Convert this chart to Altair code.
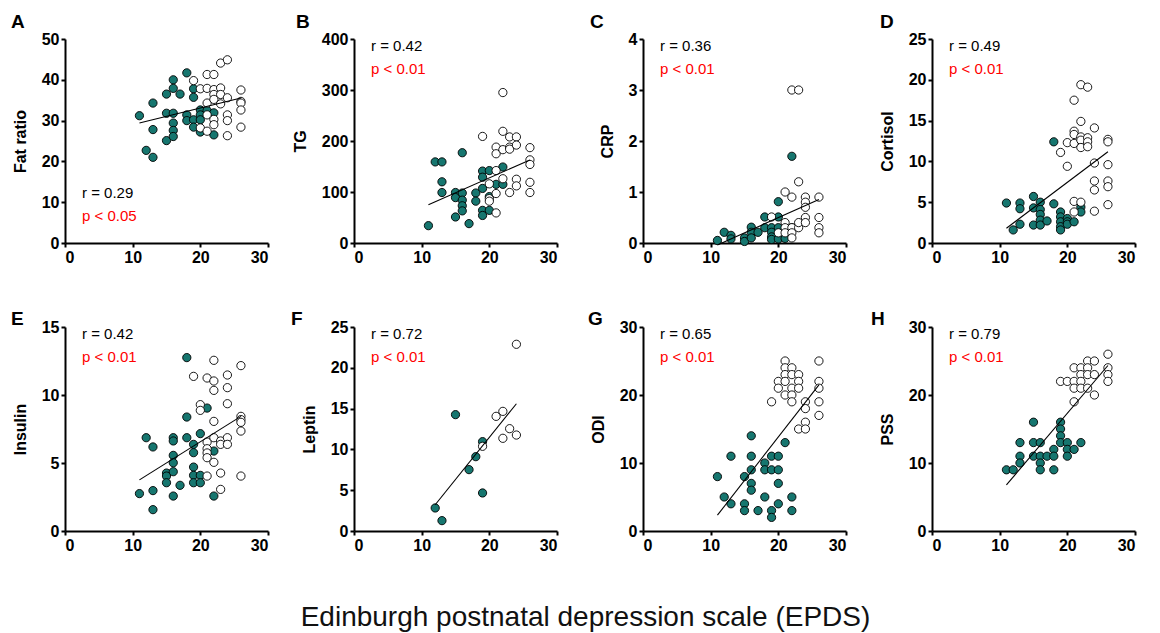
import altair as alt
import pandas as pd

TEAL = "#16766f"
FONT = "Liberation Sans"

# ---------------- data (EPDS score on x) ----------------
# A  Fat ratio
a_low_x = [11, 12, 13, 13, 13, 15, 15, 15, 16, 16, 16, 16, 16, 16, 17, 18, 18, 18, 19, 19, 19, 19, 20, 20, 20, 20, 21, 22, 22]
a_low_y = [31.2, 22.7, 21.0, 34.3, 27.8, 36.5, 31.8, 25.1, 40.0, 37.9, 31.8, 29.4, 27.6, 26.1, 36.5, 41.7, 31.4, 30.0, 37.8, 35.7, 30.2, 28.4, 32.6, 31.4, 30.2, 27.2, 32.5, 31.9, 26.5]
a_high_x = [19, 20, 20, 21, 21, 21, 21, 21, 22, 22, 22, 22, 22, 22, 23, 23, 23, 23, 24, 24, 24, 24, 24, 26, 26, 26, 26, 26]
a_high_y = [39.8, 37.8, 28.2, 41.3, 37.9, 34.3, 31.4, 27.4, 41.3, 37.6, 36.4, 35.2, 30.3, 29.0, 44.1, 38.0, 36.4, 34.1, 44.9, 35.6, 31.4, 30.0, 26.3, 37.5, 34.7, 34.3, 32.6, 28.4]

# B  TG
b_low_x = [11, 12, 13, 13, 13, 15, 15, 15, 16, 16, 16, 16, 16, 17, 18, 18, 19, 19, 19, 19, 19, 20, 20, 20, 21, 22, 22]
b_low_y = [34, 159, 159, 120, 99, 99, 89, 51, 177, 98, 84, 73, 63, 38, 98, 82, 141, 129, 107, 64, 54, 142, 91, 64, 115, 149, 115]
b_high_x = [19, 20, 20, 20, 21, 21, 21, 21, 21, 22, 22, 22, 22, 23, 23, 23, 23, 24, 24, 24, 24, 26, 26, 26, 26, 26]
b_high_y = [209, 116, 87, 82, 188, 175, 142, 97, 59, 295, 219, 183, 126, 208, 188, 184, 99, 208, 192, 125, 112, 187, 163, 154, 119, 99]

# C  CRP
c_low_x = [11, 12, 13, 13, 15, 15, 16, 16, 16, 17, 18, 18, 19, 19, 19, 19, 20, 20, 20, 20, 21, 22, 22]
c_low_y = [0.05, 0.21, 0.15, 0.08, 0.10, 0.03, 0.31, 0.21, 0.10, 0.21, 0.51, 0.30, 0.30, 0.21, 0.12, 0.07, 0.81, 0.51, 0.30, 0.08, 0.09, 1.70, 0.30]
c_high_x = [19, 20, 21, 21, 21, 21, 22, 23, 23, 22, 22, 22, 22, 23, 23, 24, 24, 24, 24, 24, 26, 26, 26, 26]
c_high_y = [0.51, 0.2, 1.0, 0.4, 0.3, 0.2, 3.0, 3.0, 1.2, 0.9, 0.3, 0.2, 0.1, 0.3, 0.4, 0.9, 0.8, 0.7, 0.5, 0.4, 0.9, 0.5, 0.3, 0.2]

# D  Cortisol
d_low_x = [11, 12, 13, 13, 13, 15, 15, 15, 16, 16, 16, 16, 16, 17, 18, 18, 19, 19, 19, 19, 19, 20, 20, 20, 21, 22, 22]
d_low_y = [4.9, 1.6, 4.9, 4.2, 2.3, 5.7, 4.3, 2.2, 5.0, 4.1, 3.5, 2.8, 2.2, 2.7, 12.4, 4.8, 3.8, 3.2, 2.6, 2.0, 1.6, 3.0, 2.6, 2.3, 2.6, 4.4, 3.8]
d_high_x = [19, 20, 20, 21, 21, 21, 21, 21, 21, 22, 22, 22, 22, 22, 22, 23, 23, 23, 23, 24, 24, 24, 24, 24, 26, 26, 26, 26, 26, 26]
d_high_y = [11.1, 12.3, 9.4, 17.5, 13.7, 13.3, 12.2, 5.1, 3.8, 19.4, 14.9, 13.0, 12.6, 11.7, 5.0, 19.1, 12.9, 12.4, 11.8, 14.1, 9.8, 7.6, 6.5, 3.9, 12.7, 12.4, 9.6, 7.6, 6.9, 4.7]

# E  Insulin
e_low_x = [11, 12, 13, 13, 13, 15, 15, 15, 16, 16, 16, 16, 16, 16, 17, 18, 18, 18, 19, 19, 19, 19, 19, 20, 20, 20, 21, 22, 22]
e_low_y = [2.75, 6.86, 6.18, 2.97, 1.57, 4.26, 4.04, 3.55, 6.86, 6.62, 5.56, 5.02, 4.36, 2.57, 3.36, 8.38, 6.86, 12.75, 6.37, 5.76, 4.7, 4.09, 3.55, 7.16, 4.09, 3.55, 9.04, 5.88, 2.57]
e_high_x = [19, 20, 20, 21, 21, 21, 21, 21, 21, 22, 22, 22, 22, 22, 22, 23, 23, 23, 23, 24, 24, 24, 24, 24, 26, 26, 26, 26, 26, 26]
e_high_y = [11.37, 9.29, 8.87, 11.25, 6.54, 6.05, 5.74, 5.39, 4.04, 12.55, 11.03, 10.34, 8.06, 6.86, 5.05, 6.62, 6.37, 4.26, 3.06, 11.47, 10.54, 9.36, 6.86, 6.37, 12.16, 8.43, 8.19, 7.99, 7.35, 4.04]

# F  Leptin
f_low_x = [12, 13, 15, 17, 18, 19, 19]
f_low_y = [2.82, 1.27, 14.26, 7.52, 9.11, 10.95, 4.66]
f_high_x = [19, 21, 22, 22, 23, 24, 24]
f_high_y = [10.38, 14.05, 14.66, 11.36, 12.54, 22.88, 11.76]

# G  ODI
g_low_x = [11, 12, 13, 13, 15, 15, 15, 16, 16, 16, 16, 16, 17, 18, 18, 18, 19, 19, 19, 19, 20, 20, 20, 20, 21, 22, 22]
g_low_y = [8, 5, 11, 4, 8, 4, 3, 14, 11, 9, 7, 6, 3, 10, 9, 5, 11, 9, 3, 2, 11, 9, 7, 4, 13, 5, 3]
g_high_x = [19, 20, 20, 21, 21, 21, 21, 21, 22, 22, 22, 22, 22, 23, 23, 23, 23, 24, 24, 24, 24, 26, 26, 26, 26, 26]
g_high_y = [19, 22, 21, 25, 24, 23, 22, 20, 24, 23, 21, 20, 19, 23, 22, 21, 15, 19, 18, 16, 15, 25, 22, 21, 19, 17]

# H  PSS
h_low_x = [11, 12, 13, 13, 13, 15, 15, 15, 16, 16, 16, 16, 17, 18, 18, 18, 19, 19, 19, 19, 20, 20, 20, 21, 22]
h_low_y = [9, 9, 13, 11, 10, 16, 13, 11, 13, 11, 10, 9, 11, 12, 11, 9, 16, 15, 14, 13, 13, 12, 11, 12, 13]
h_high_x = [19, 20, 21, 21, 21, 21, 22, 22, 22, 22, 23, 23, 23, 23, 24, 24, 24, 26, 26, 26, 26]
h_high_y = [22, 22, 22, 21, 19, 24, 24, 23, 22, 21, 25, 24, 23, 21, 25, 23, 20, 26, 24, 23, 22]

letters = ["A", "B", "C", "D", "E", "F", "G", "H"]
y_titles = ["Fat ratio", "TG", "CRP", "Cortisol", "Insulin", "Leptin", "ODI", "PSS"]
y_max = [50, 400, 4, 25, 15, 25, 30, 30]
y_step = [10, 100, 1, 5, 5, 5, 10, 10]
r_texts = ["r = 0.29", "r = 0.42", "r = 0.36", "r = 0.49", "r = 0.42", "r = 0.72", "r = 0.65", "r = 0.79"]
p_texts = ["p < 0.05", "p < 0.01", "p < 0.01", "p < 0.01", "p < 0.01", "p < 0.01", "p < 0.01", "p < 0.01"]
x_ticks = [0, 10, 20, 30]

series = [
    (a_low_x, a_low_y, a_high_x, a_high_y),
    (b_low_x, b_low_y, b_high_x, b_high_y),
    (c_low_x, c_low_y, c_high_x, c_high_y),
    (d_low_x, d_low_y, d_high_x, d_high_y),
    (e_low_x, e_low_y, e_high_x, e_high_y),
    (f_low_x, f_low_y, f_high_x, f_high_y),
    (g_low_x, g_low_y, g_high_x, g_high_y),
    (h_low_x, h_low_y, h_high_x, h_high_y),
]

# ---------------- layout ----------------
W, H = 203, 204
letter_dx = [-54, -58, -53, -52, -54, -63, -55, -61]
letter_dy = [-11, -11, -11, -11, -2, -2, -2, -2]
text_top = [154, 7, 7, 7, 7, 7, 7, 7]


def make_panel(i):
    lx, ly, hx, hy = series[i]
    df = pd.DataFrame({
        "x": lx + hx,
        "y": ly + hy,
        "grp": ["low"] * len(lx) + ["high"] * len(hx),
    })
    ticks = [k * y_step[i] for k in range(int(round(y_max[i] / y_step[i])) + 1)]
    xs = alt.Scale(domain=[0, 30], nice=False)
    ys = alt.Scale(domain=[0, y_max[i]], nice=False)
    xenc = alt.X("x:Q", scale=xs, axis=alt.Axis(values=x_ticks, title=None, format="d"))
    yenc = alt.Y("y:Q", scale=ys, axis=alt.Axis(values=ticks, title=y_titles[i], format="d"))

    base = alt.Chart(df)
    pts = base.mark_circle(size=68, stroke="black", strokeWidth=0.9, opacity=1).encode(
        x=xenc, y=yenc,
        fill=alt.Fill("grp:N", scale=alt.Scale(domain=["low", "high"], range=[TEAL, "white"]), legend=None),
    )
    line = base.transform_regression("x", "y").mark_line(color="black", strokeWidth=1.1).encode(
        x=alt.X("x:Q", scale=xs), y=alt.Y("y:Q", scale=ys)
    )
    rt = alt.Chart(pd.DataFrame({"t": [r_texts[i]]})).mark_text(
        align="left", baseline="middle", font=FONT, fontSize=15, color="black"
    ).encode(x=alt.value(17), y=alt.value(text_top[i]), text="t:N")
    pt = alt.Chart(pd.DataFrame({"t": [p_texts[i]]})).mark_text(
        align="left", baseline="middle", font=FONT, fontSize=15, color="#ff0000"
    ).encode(x=alt.value(17), y=alt.value(text_top[i] + 23), text="t:N")
    lt = alt.Chart(pd.DataFrame({"t": [letters[i]]})).mark_text(
        align="left", baseline="alphabetic", font=FONT, fontSize=19, fontWeight="bold", color="black"
    ).encode(x=alt.value(letter_dx[i]), y=alt.value(letter_dy[i]), text="t:N")
    return alt.layer(pts, line, rt, pt, lt).properties(width=W, height=H)


panels = [make_panel(i) for i in range(8)]

chart = alt.concat(
    *panels, columns=4, spacing={"row": 84, "column": 86}, bounds="flush"
).properties(
    title=alt.TitleParams(
        "Edinburgh postnatal depression scale (EPDS)",
        orient="bottom", anchor="middle", fontSize=28, fontWeight="normal",
        font=FONT, color="#111111", offset=51, dx=12,
    ),
    padding={"left": 3, "top": 5, "right": 5, "bottom": 0},
).configure_view(stroke=None).configure_axis(
    grid=False,
    domainColor="black", domainWidth=2,
    tickColor="black", tickWidth=2, tickSize=4,
    labelFont=FONT, labelFontSize=16, labelFontWeight="bold", labelColor="black", labelPadding=2,
    titleFont=FONT, titleFontSize=16, titleFontWeight="bold", titleColor="black", titlePadding=13,
)

chart.save("out.html", embed_options={"renderer": "svg", "actions": False})
